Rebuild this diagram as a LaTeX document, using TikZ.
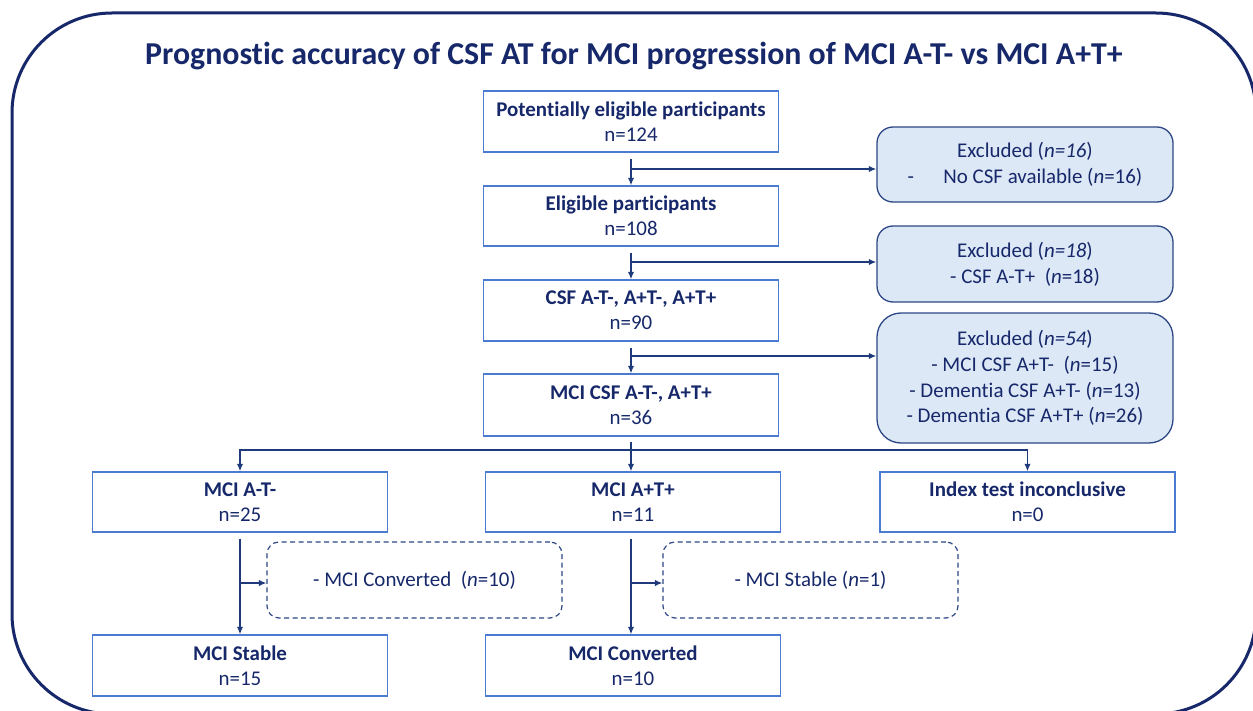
\documentclass[tikz,border=0pt]{standalone}
\usepackage{fontspec}
\setmainfont{Carlito}[Ligatures=NoCommon]
\usetikzlibrary{arrows.meta}
\definecolor{navy}{HTML}{16286A}
\definecolor{lineblue}{HTML}{1E3A7B}
\definecolor{boxblue}{HTML}{4A7BD0}
\definecolor{exfill}{HTML}{DDE8F6}
\definecolor{exborder}{HTML}{2C4784}
\tikzset{
  mainbox/.style={draw=boxblue, line width=1.3bp, fill=white, minimum width=295bp, minimum height=60bp, inner sep=0pt, align=center, text=navy, font=\fontsize{21}{25.5}\selectfont},
  exbox/.style={draw=exborder, line width=1.3bp, fill=exfill, rounded corners=16bp, minimum width=296bp, inner sep=0pt, align=center, text=navy, font=\fontsize{21}{25.8}\selectfont},
  dashbox/.style={draw=exborder, line width=1.2bp, dashed, dash pattern=on 5bp off 3.5bp, rounded corners=12bp, minimum width=295bp, minimum height=76bp, inner sep=0pt, align=center, text=navy, font=\fontsize{21}{25}\selectfont},
  arr/.style={draw=lineblue, line width=1.6bp, -{Latex[length=7.5bp,width=6.5bp]}},
  ln/.style={draw=lineblue, line width=1.6bp},
}
\begin{document}
\begin{tikzpicture}[x=1bp,y=-1bp]
\useasboundingbox (0,0) rectangle (1253,711);
\begin{scope}
\clip (0,0) rectangle (1253,711);
\draw[navy, line width=3bp, rounded corners=100bp] (12,13) rectangle (1256,714);
\end{scope}
\node[text=navy, font=\fontsize{32}{36}\selectfont\bfseries] (title) at (634,56) {Prognostic accuracy of CSF AT for MCI progression of MCI A-T- vs MCI A+T+};

\node[mainbox, minimum height=61bp] (b1) at (631,121.5) {\textbf{Potentially eligible participants}\\n=124};
\node[mainbox] (b2) at (631,216) {\textbf{Eligible participants}\\n=108};
\node[mainbox, minimum height=61bp] (b3) at (631,310.5) {\textbf{CSF A-T-, A+T-, A+T+}\\n=90};
\node[mainbox, minimum height=62bp] (b4) at (631,405) {\textbf{MCI CSF A-T-, A+T+}\\n=36};

\node[exbox, minimum height=75bp] (e1) at (1025,164.5) {Excluded (\textit{n=16})\\-\hspace{1.4em}No CSF available (\textit{n}=16)};
\node[exbox, minimum height=76bp] (e2) at (1025,264) {Excluded (\textit{n=18})\\- CSF A-T+\ \ (\textit{n}=18)};
\node[exbox, minimum height=130bp, rounded corners=24bp] (e3) at (1025,378) {Excluded (\textit{n=54})\\- MCI CSF A+T-\ \ (\textit{n}=15)\\- Dementia CSF A+T- (\textit{n}=13)\\- Dementia CSF A+T+ (\textit{n}=26)};

\node[mainbox] (c1) at (240,502) {\textbf{MCI A-T-}\\n=25};
\node[mainbox] (c2) at (633,502) {\textbf{MCI A+T+}\\n=11};
\node[mainbox] (c3) at (1027.5,502) {\textbf{Index test inconclusive}\\n=0};

\node[dashbox] (d1) at (414.5,580) {- MCI Converted\ \ (\textit{n}=10)};
\node[dashbox] (d2) at (810.5,580) {- MCI Stable (\textit{n}=1)};

\node[mainbox, minimum height=61bp] (f1) at (240,665.5) {\textbf{MCI Stable}\\n=15};
\node[mainbox, minimum height=61bp] (f2) at (633,665.5) {\textbf{MCI Converted}\\n=10};

% top column connectors
\draw[arr, shorten <=6bp] (b1.south) -- (b2.north);
\draw[arr, shorten <=6bp] (b2.south) -- (b3.north);
\draw[arr, shorten <=6bp] (b3.south) -- (b4.north);
\coordinate (j1) at (631,169);
\coordinate (j2) at (631,262);
\coordinate (j3) at (631,356);
\draw[arr] (j1) -- (e1.west |- j1);
\draw[arr] (j2) -- (e2.west |- j2);
\draw[arr] (j3) -- (e3.west |- j3);

% split row
\coordinate (r0) at (631,450);
\draw[ln, shorten <=5bp] (b4.south) -- (r0);
\draw[arr] (r0) -| (c1.north);
\draw[arr] (r0) -- (c2.north -| r0);
\draw[arr] (r0) -| (c3.north);

% lower branches
\coordinate (v2) at (631,0);
\draw[arr, shorten <=6bp] (c1.south) -- (f1.north);
\draw[arr, shorten <=6bp] (c2.south -| v2) -- (f2.north -| v2);
\coordinate (k1) at (240,583);
\coordinate (k2) at (631,583);
\draw[arr] (k1) -- (d1.west |- k1);
\draw[arr] (k2) -- (d2.west |- k2);
\end{tikzpicture}
\end{document}
